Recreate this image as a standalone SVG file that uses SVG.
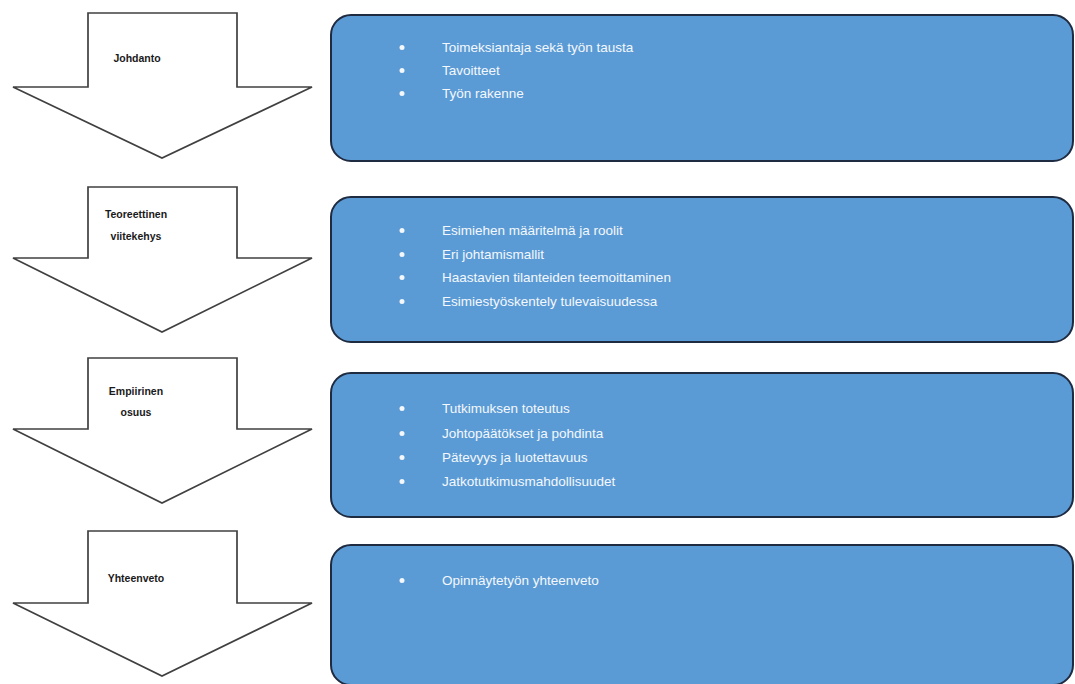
<svg xmlns="http://www.w3.org/2000/svg" width="1075" height="684" viewBox="0 0 1075 684">
  <style>
    .arrow { fill: #ffffff; stroke: #404040; stroke-width: 1.7; stroke-linejoin: miter; }
    .label { font-family: "Liberation Sans", Arial, sans-serif; font-weight: bold; font-size: 10.5px; fill: #1a1a1a; text-anchor: middle; }
    .box { fill: #5b9bd5; stroke: #1f2b40; stroke-width: 2; }
    .item { font-family: "Liberation Sans", Arial, sans-serif; font-size: 13.5px; fill: #f4f8fc; }
    .dot { fill: #f4f8fc; }
  </style>
  <rect width="1075" height="684" fill="#ffffff"/>

  <!-- Section 1 -->
  <g id="arrow-johdanto">
    <path class="arrow" d="M88,13 H237 V87 H312 L162,158 L13,87 H88 Z"/>
    <text class="label" x="137" y="62">Johdanto</text>
  </g>
  <g id="box-johdanto">
    <rect class="box" x="331" y="15" width="742" height="146" rx="20" ry="20"/>
    <circle class="dot" cx="402" cy="47.5" r="2.5"/>
    <text class="item" x="442" y="52">Toimeksiantaja sekä työn tausta</text>
    <circle class="dot" cx="402" cy="70.5" r="2.5"/>
    <text class="item" x="442" y="75">Tavoitteet</text>
    <circle class="dot" cx="402" cy="93.5" r="2.5"/>
    <text class="item" x="442" y="98">Työn rakenne</text>
  </g>

  <!-- Section 2 -->
  <g id="arrow-teoreettinen">
    <path class="arrow" d="M88,187 H237 V258 H312 L162,332 L13,258 H88 Z"/>
    <text class="label" x="136" y="218">Teoreettinen</text>
    <text class="label" x="136" y="240">viitekehys</text>
  </g>
  <g id="box-teoreettinen">
    <rect class="box" x="331" y="197" width="742" height="145" rx="20" ry="20"/>
    <circle class="dot" cx="402" cy="230.5" r="2.5"/>
    <text class="item" x="442" y="235">Esimiehen määritelmä ja roolit</text>
    <circle class="dot" cx="402" cy="254.5" r="2.5"/>
    <text class="item" x="442" y="259">Eri johtamismallit</text>
    <circle class="dot" cx="402" cy="277.5" r="2.5"/>
    <text class="item" x="442" y="282">Haastavien tilanteiden teemoittaminen</text>
    <circle class="dot" cx="402" cy="301.5" r="2.5"/>
    <text class="item" x="442" y="306">Esimiestyöskentely tulevaisuudessa</text>
  </g>

  <!-- Section 3 -->
  <g id="arrow-empiirinen">
    <path class="arrow" d="M88,358 H237 V429 H312 L162,503 L13,429 H88 Z"/>
    <text class="label" x="136" y="395">Empiirinen</text>
    <text class="label" x="136" y="416">osuus</text>
  </g>
  <g id="box-empiirinen">
    <rect class="box" x="331" y="373" width="742" height="144" rx="20" ry="20"/>
    <circle class="dot" cx="402" cy="408.5" r="2.5"/>
    <text class="item" x="442" y="413">Tutkimuksen toteutus</text>
    <circle class="dot" cx="402" cy="433.5" r="2.5"/>
    <text class="item" x="442" y="438">Johtopäätökset ja pohdinta</text>
    <circle class="dot" cx="402" cy="457.5" r="2.5"/>
    <text class="item" x="442" y="462">Pätevyys ja luotettavuus</text>
    <circle class="dot" cx="402" cy="481.5" r="2.5"/>
    <text class="item" x="442" y="486">Jatkotutkimusmahdollisuudet</text>
  </g>

  <!-- Section 4 -->
  <g id="arrow-yhteenveto">
    <path class="arrow" d="M88,531 H237 V603 H312 L162,676 L13,603 H88 Z"/>
    <text class="label" x="136" y="582">Yhteenveto</text>
  </g>
  <g id="box-yhteenveto">
    <rect class="box" x="331" y="545" width="742" height="140" rx="20" ry="20"/>
    <circle class="dot" cx="402" cy="580.5" r="2.5"/>
    <text class="item" x="442" y="585">Opinnäytetyön yhteenveto</text>
  </g>

  <!-- The arrows themselves carry the flow; no separate connectors are drawn -->
  <g id="connectors"/>
</svg>
